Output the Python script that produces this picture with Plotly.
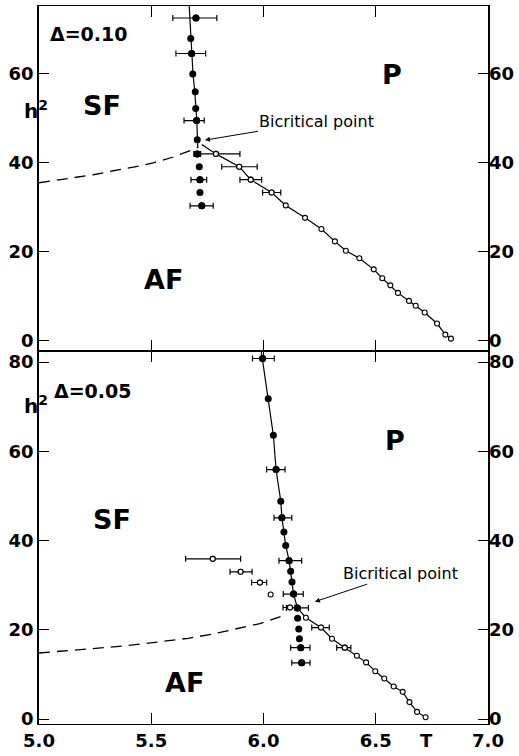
import plotly.graph_objects as go
from plotly.subplots import make_subplots

# ---------------- Data: Delta = 0.10 (top panel) ----------------
top_filled_T = [5.699, 5.676, 5.680, 5.685, 5.696, 5.698, 5.702, 5.705, 5.705, 5.714, 5.717, 5.717, 5.725]
top_filled_h = [72.6, 68.0, 64.6, 60.0, 56.0, 52.2, 49.5, 45.2, 42.0, 39.1, 36.2, 33.3, 30.3]
top_filled_err_T = [5.699, 5.680, 5.702, 5.705, 5.717, 5.725]
top_filled_err_h = [72.6, 64.6, 49.5, 42.0, 36.2, 30.3]
top_filled_err_lo = [0.103, 0.070, 0.056, 0.015, 0.040, 0.052]
top_filled_err_hi = [0.093, 0.062, 0.034, 0.015, 0.030, 0.051]

top_open_T = [5.788, 5.892, 5.943, 6.036, 6.099, 6.185, 6.258, 6.318, 6.367, 6.427,
              6.491, 6.529, 6.565, 6.599, 6.648, 6.678, 6.718, 6.773, 6.810, 6.835]
top_open_h = [42.0, 39.1, 36.2, 33.3, 30.4, 27.6, 25.1, 22.3, 20.2, 18.5,
              16.0, 14.0, 12.4, 10.7, 8.9, 7.8, 6.3, 3.8, 1.3, 0.4]
top_open_err_T = [5.788, 5.892, 5.943, 6.036]
top_open_err_h = [42.0, 39.1, 36.2, 33.3]
top_open_err_lo = [0.096, 0.078, 0.048, 0.040]
top_open_err_hi = [0.107, 0.080, 0.049, 0.041]

top_sfp_T = [5.669, 5.676, 5.681, 5.686, 5.694, 5.699, 5.703, 5.707]
top_sfp_h = [75.3, 68.0, 64.6, 60.0, 56.0, 52.2, 49.5, 43.5]
top_afp_T = [5.725] + top_open_T
top_afp_h = [44.1] + top_open_h
top_dash_T = [5.0, 5.153, 5.242, 5.331, 5.42, 5.509, 5.598, 5.687, 5.71]
top_dash_h = [35.5, 36.6, 37.3, 38.2, 39.0, 40.0, 41.3, 43.0, 43.5]

# ---------------- Data: Delta = 0.05 (bottom panel) ----------------
bot_filled_T = [5.996, 6.021, 6.044, 6.056, 6.077, 6.082, 6.091, 6.099, 6.114, 6.121,
                6.127, 6.134, 6.151, 6.152, 6.157, 6.160, 6.166, 6.170]
bot_filled_h = [80.8, 71.8, 63.6, 55.9, 48.8, 45.1, 41.9, 38.9, 35.5, 33.1,
                30.7, 28.0, 24.9, 22.6, 20.2, 18.0, 16.0, 12.6]
bot_filled_err_T = [5.996, 6.056, 6.082, 6.114, 6.134, 6.151, 6.166, 6.170]
bot_filled_err_h = [80.8, 55.9, 45.1, 35.5, 28.0, 24.9, 16.0, 12.6]
bot_filled_err_lo = [0.045, 0.042, 0.035, 0.045, 0.046, 0.049, 0.045, 0.044]
bot_filled_err_hi = [0.052, 0.040, 0.044, 0.056, 0.043, 0.049, 0.041, 0.037]

bot_open_T = [5.774, 5.898, 5.984, 6.032, 6.118, 6.189, 6.256, 6.305, 6.362, 6.416,
              6.457, 6.498, 6.538, 6.580, 6.620, 6.650, 6.684, 6.722]
bot_open_h = [35.9, 33.0, 30.6, 27.9, 25.0, 22.7, 20.5, 18.0, 16.0, 14.2,
              12.7, 10.7, 9.1, 7.3, 6.1, 3.8, 1.6, 0.4]
bot_open_err_T = [5.774, 5.898, 5.984, 6.118, 6.256, 6.362]
bot_open_err_h = [35.9, 33.0, 30.6, 25.0, 20.5, 16.0]
bot_open_err_lo = [0.121, 0.047, 0.037, 0.031, 0.041, 0.036]
bot_open_err_hi = [0.124, 0.051, 0.030, 0.022, 0.037, 0.027]

bot_sfp_T = [5.990, 6.021, 6.044, 6.056, 6.077, 6.082, 6.091, 6.099, 6.114, 6.121, 6.127, 6.134, 6.151]
bot_sfp_h = [82.4, 71.8, 63.6, 55.9, 48.8, 45.1, 41.9, 38.9, 35.5, 33.1, 30.7, 28.0, 24.9]
bot_afp_T = [6.151] + bot_open_T[5:]
bot_afp_h = [24.9] + bot_open_h[5:]
bot_dash_T = [5.0, 5.175, 5.279, 5.383, 5.487, 5.665, 5.769, 5.873, 5.984, 6.073, 6.09]
bot_dash_h = [14.8, 15.5, 15.9, 16.4, 17.0, 18.1, 19.0, 20.2, 21.4, 22.9, 23.6]

x_ticks = [5.0, 5.5, 6.0, 6.5, 7.0]
top_yticks = [0, 20, 40, 60]
bot_yticks = [0, 20, 40, 60, 80]
top_yrange = [-2.46, 75.3]
bot_yrange = [-1.11, 82.4]
x_range = [5.0, 7.0]

FONT = "DejaVu Sans"
BLACK = "black"

fig = make_subplots(rows=2, cols=1, shared_xaxes=True, vertical_spacing=0,
                    row_heights=[347.5, 375])


def add_panel(row, sfp_T, sfp_h, afp_T, afp_h, dash_T, dash_h,
              fT, fh, feT, feh, felo, fehi, oT, oh, oeT, oeh, oelo, oehi):
    line = dict(color=BLACK, width=1.2)
    fig.add_trace(go.Scatter(x=sfp_T, y=sfp_h, mode="lines", line=line,
                             showlegend=False, hoverinfo="skip"), row=row, col=1)
    fig.add_trace(go.Scatter(x=afp_T, y=afp_h, mode="lines", line=line,
                             showlegend=False, hoverinfo="skip"), row=row, col=1)
    fig.add_trace(go.Scatter(x=dash_T, y=dash_h, mode="lines",
                             line=dict(color=BLACK, width=1.3, dash="11px,7px"),
                             showlegend=False, hoverinfo="skip"), row=row, col=1)
    err = dict(type="data", symmetric=False, color=BLACK, thickness=1.2, width=3)
    fig.add_trace(go.Scatter(x=feT, y=feh, mode="markers",
                             marker=dict(color=BLACK, size=7),
                             error_x=dict(array=fehi, arrayminus=felo, **err),
                             showlegend=False), row=row, col=1)
    fig.add_trace(go.Scatter(x=oeT, y=oeh, mode="markers",
                             marker=dict(color="white", size=5, line=dict(color=BLACK, width=1.1)),
                             error_x=dict(array=oehi, arrayminus=oelo, **err),
                             showlegend=False), row=row, col=1)
    fig.add_trace(go.Scatter(x=fT, y=fh, mode="markers",
                             marker=dict(color=BLACK, size=7),
                             showlegend=False), row=row, col=1)
    fig.add_trace(go.Scatter(x=oT, y=oh, mode="markers",
                             marker=dict(color="white", size=5, line=dict(color=BLACK, width=1.1)),
                             showlegend=False), row=row, col=1)


add_panel(1, top_sfp_T, top_sfp_h, top_afp_T, top_afp_h, top_dash_T, top_dash_h,
          top_filled_T, top_filled_h, top_filled_err_T, top_filled_err_h,
          top_filled_err_lo, top_filled_err_hi,
          top_open_T, top_open_h, top_open_err_T, top_open_err_h,
          top_open_err_lo, top_open_err_hi)
add_panel(2, bot_sfp_T, bot_sfp_h, bot_afp_T, bot_afp_h, bot_dash_T, bot_dash_h,
          bot_filled_T, bot_filled_h, bot_filled_err_T, bot_filled_err_h,
          bot_filled_err_lo, bot_filled_err_hi,
          bot_open_T, bot_open_h, bot_open_err_T, bot_open_err_h,
          bot_open_err_lo, bot_open_err_hi)

# invisible traces for right-side label axes
fig.add_trace(go.Scatter(x=[5.0], y=[0], xaxis="x", yaxis="y3", mode="markers",
                         marker=dict(opacity=0), showlegend=False, hoverinfo="skip"))
fig.add_trace(go.Scatter(x=[5.0], y=[0], xaxis="x2", yaxis="y4", mode="markers",
                         marker=dict(opacity=0), showlegend=False, hoverinfo="skip"))

tickfont = dict(family=FONT, size=18, color=BLACK, weight="bold")
xax = dict(range=x_range, tickvals=x_ticks, tickformat=".1f", ticks="inside", ticklen=11,
           tickwidth=1.3, tickcolor=BLACK, showline=True, linecolor=BLACK, linewidth=1.0,
           mirror="ticks", showgrid=False, zeroline=False, tickfont=tickfont)
fig.update_xaxes(**xax)
fig.update_xaxes(showticklabels=False, row=1, col=1)
fig.update_xaxes(linewidth=1.2, row=2, col=1)

yax = dict(ticks="inside", ticklen=10, tickwidth=1.3, tickcolor=BLACK, showline=True,
           linecolor=BLACK, linewidth=1.5, mirror=True, showgrid=False, zeroline=False,
           tickfont=tickfont)
fig.update_yaxes(range=top_yrange, tickvals=top_yticks, row=1, col=1, **yax)
fig.update_yaxes(range=bot_yrange, tickvals=bot_yticks, row=2, col=1, **yax)

fig.update_layout(
    yaxis3=dict(overlaying="y", side="right", anchor="x", range=top_yrange,
                tickvals=top_yticks, ticks="inside", ticklen=10, tickwidth=1.3,
                tickcolor=BLACK, showline=False, showgrid=False, zeroline=False,
                tickfont=tickfont),
    yaxis4=dict(overlaying="y2", side="right", anchor="x2", range=bot_yrange,
                tickvals=bot_yticks, ticks="inside", ticklen=10, tickwidth=1.3,
                tickcolor=BLACK, showline=False, showgrid=False, zeroline=False,
                tickfont=tickfont),
)

big = dict(family=FONT, size=27, color=BLACK, weight="bold")
delta_font = dict(family=FONT, size=19, color=BLACK, weight="bold")
h_font = dict(family=FONT, size=20, color=BLACK, weight="bold")
bic_font = dict(family=FONT, size=16, color=BLACK)
anns = [
    dict(x=5.04, y=68.9, xref="x", yref="y", text="Δ=0.10", xanchor="left", font=delta_font),
    dict(x=5.056, y=73.4, xref="x2", yref="y2", text="Δ=0.05", xanchor="left", font=delta_font),
    dict(x=5.28, y=52.8, xref="x", yref="y", text="SF", font=big),
    dict(x=6.571, y=59.8, xref="x", yref="y", text="P", font=big),
    dict(x=5.554, y=13.7, xref="x", yref="y", text="AF", font=big),
    dict(x=5.324, y=44.8, xref="x2", yref="y2", text="SF", font=big),
    dict(x=6.586, y=62.5, xref="x2", yref="y2", text="P", font=big),
    dict(x=5.65, y=8.1, xref="x2", yref="y2", text="AF", font=big),
    dict(x=-0.038, y=51.9, xref="paper", yref="y", text="h<sup>2</sup>", font=h_font),
    dict(x=-0.038, y=70.4, xref="paper", yref="y2", text="h<sup>2</sup>", font=h_font),
    dict(x=5.739, y=45.1, xref="x", yref="y", ax=6.238, ay=49.3, axref="x", ayref="y",
         text="Bicritical point", font=bic_font, showarrow=True, arrowhead=2,
         arrowsize=1, arrowwidth=1, arrowcolor=BLACK, standoff=0),
    dict(x=6.229, y=26.3, xref="x2", yref="y2", ax=6.608, ay=32.7, axref="x2", ayref="y2",
         text="Bicritical point", font=bic_font, showarrow=True, arrowhead=2,
         arrowsize=1, arrowwidth=1, arrowcolor=BLACK, standoff=0),
    dict(x=6.724, y=-0.006, xref="x2", yref="paper", text="T", yanchor="top",
         font=dict(family=FONT, size=18, color=BLACK, weight="bold")),
]
for a in anns:
    a.setdefault("showarrow", False)
fig.update_layout(annotations=anns)

fig.update_layout(width=519, height=756, margin=dict(l=39, r=31, t=5, b=28),
                  plot_bgcolor="white", paper_bgcolor="white",
                  font=dict(family=FONT, color=BLACK), showlegend=False)

fig.write_html("out.html", config={"displayModeBar": False},
               post_script="document.body.style.margin='0';document.body.style.overflow='hidden';")
